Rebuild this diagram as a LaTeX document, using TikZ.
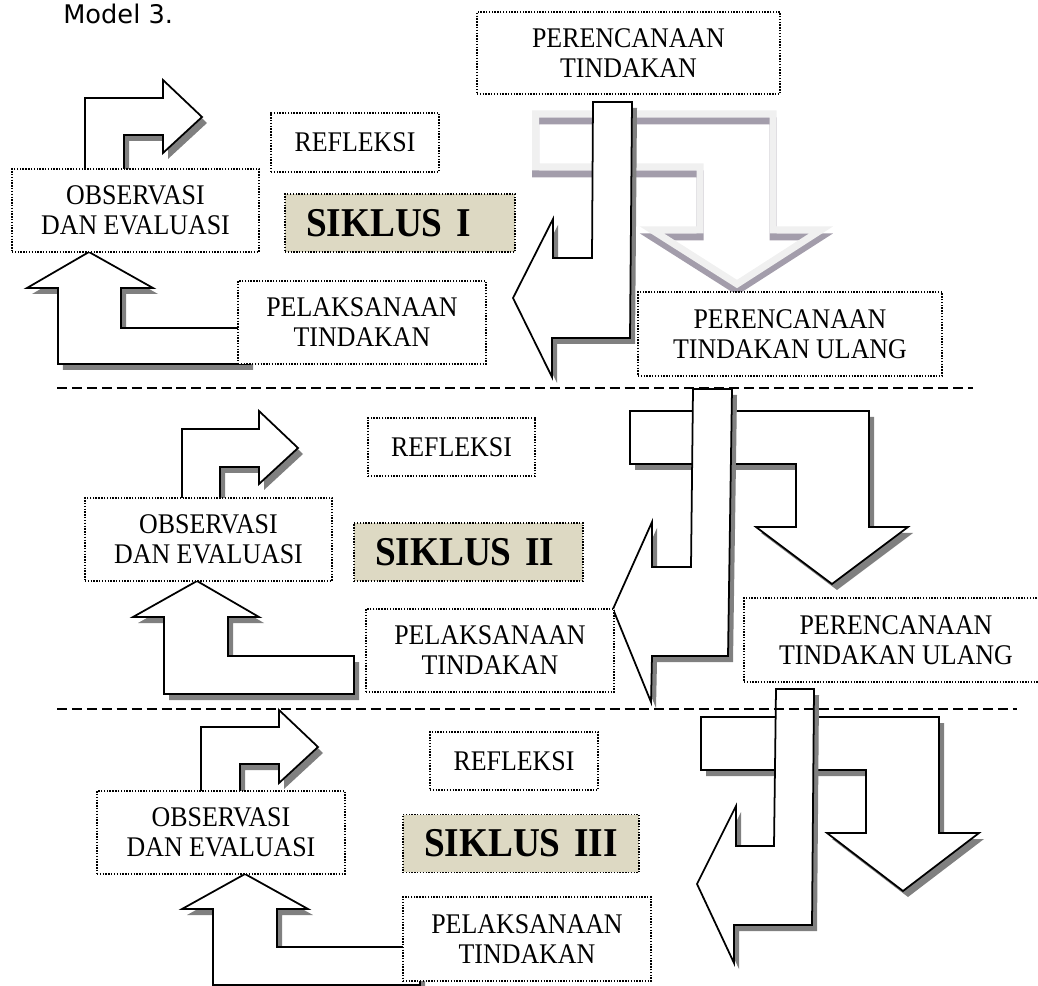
\documentclass[tikz,border=0pt]{standalone}
\usepackage{fontspec}
\setmainfont{Liberation Serif}[FakeStretch=0.91]
\newfontfamily\modelfont{DejaVu Sans}
\usepackage{xcolor}
\usepackage{tikz}
\usetikzlibrary{shadows}
\definecolor{cycletan}{HTML}{DDD9C3}
\definecolor{ghostline}{HTML}{F0F0F0}
\definecolor{ghostshade}{HTML}{A39DAB}
\tikzset{
  textbox/.style={rectangle, draw=black, line width=0.8pt, dash pattern=on 0.8pt off 0.8pt, fill=white, align=center, inner sep=0pt, font=\fontsize{16.2}{17}\selectfont},
  cyclebox/.style={textbox, fill=cycletan, align=left, inner xsep=0.42cm, minimum height=1.16cm, font=\fontsize{23.3}{26}\selectfont\bfseries},
  blockarrow/.style={draw=black, line width=1pt, fill=white, line join=miter, drop shadow={shadow xshift=1mm, shadow yshift=-1.2mm, fill=black!50, opacity=1}},
  ghostarrow/.style={draw=ghostline, line width=0.14cm, line join=miter},
  separator/.style={line width=0.6pt, dash pattern=on 5.7pt off 2.8pt}
}

\begin{document}
\begin{tikzpicture}[x=0.02cm, y=-0.02cm]
\useasboundingbox (0,0) rectangle (1038,986);
\node[anchor=base west, inner sep=0pt, font=\modelfont\fontsize{14.6}{16}\selectfont] (title) at (63,24) {Model 3.};

% Siklus I - arrows first, boxes on top
\draw[ghostarrow, draw=ghostshade, yshift=-0.14cm] (535.5,114) -- (773,114) -- (773,230) -- (821,230) -- (737,284) -- (652,230) -- (700,230) -- (700,167) -- (535.5,167) -- cycle;
\draw[ghostarrow] (535.5,114) -- (773,114) -- (773,230) -- (821,230) -- (737,284) -- (652,230) -- (700,230) -- (700,167) -- (535.5,167) -- cycle;
\draw[blockarrow] (593,102) -- (632,102) -- (630,338) -- (552,338) -- (552,377) -- (513,298) -- (553,219) -- (553,258) -- (592,258) -- cycle;
\draw[blockarrow] (85,172) -- (85,98) -- (163,98) -- (163,80) -- (202,117) -- (163,153) -- (163,135) -- (124,135) -- (124,172) -- cycle;
\draw[blockarrow] (248,364) -- (58,364) -- (58,288) -- (27,288) -- (89,252) -- (153,288) -- (121,288) -- (121,328) -- (248,328) -- cycle;

\node[textbox, minimum width=6.06cm, minimum height=1.64cm] (plan1) at (628.5,53) {PERENCANAAN\\TINDAKAN};
\node[textbox, minimum width=3.36cm, minimum height=1.18cm] (refl1) at (355,142.5) {REFLEKSI};
\node[textbox, minimum width=4.94cm, minimum height=1.66cm] (obs1) at (135.5,210.5) {OBSERVASI\\DAN EVALUASI};
\node[cyclebox, text width=3.76cm] (cyc1) at (400,223) {SIKLUS I};
\node[textbox, minimum width=4.96cm, minimum height=1.66cm] (act1) at (362,322.5) {PELAKSANAAN\\TINDAKAN};
\node[textbox, minimum width=6.08cm, minimum height=1.68cm] (replan1) at (790,334) {PERENCANAAN\\TINDAKAN ULANG};

% Siklus II
\draw[blockarrow] (630,411) -- (869,411) -- (869,527) -- (908,527) -- (832,584) -- (756,527) -- (796,527) -- (796,464) -- (630,464) -- cycle;
\draw[blockarrow] (693,389) -- (732,389) -- (728,656) -- (652,656) -- (651,702) -- (613,609) -- (652,522) -- (652,567) -- (691,567) -- cycle;
\draw[blockarrow] (182,501) -- (182,429) -- (259,429) -- (259,411) -- (298,448) -- (259,484) -- (259,467) -- (220,467) -- (220,501) -- cycle;
\draw[blockarrow] (354,694) -- (164,694) -- (164,617) -- (133,617) -- (197,581) -- (259,617) -- (228,617) -- (228,656) -- (354,656) -- cycle;

\node[textbox, minimum width=3.34cm, minimum height=1.16cm] (refl2) at (451.5,447) {REFLEKSI};
\node[textbox, minimum width=4.94cm, minimum height=1.66cm] (obs2) at (208.5,539.5) {OBSERVASI\\DAN EVALUASI};
\node[cyclebox, text width=3.74cm] (cyc2) at (468.5,552) {SIKLUS II};
\node[textbox, minimum width=4.96cm, minimum height=1.66cm] (act2) at (490,650.5) {PELAKSANAAN\\TINDAKAN};
\node[textbox, minimum width=6.08cm, minimum height=1.68cm] (replan2) at (896,640) {PERENCANAAN\\TINDAKAN ULANG};

% Siklus III
\draw[blockarrow] (701,717) -- (939,717) -- (939,833) -- (979,833) -- (903,891) -- (827,833) -- (866,833) -- (866,770) -- (701,770) -- cycle;
\draw[blockarrow] (776,689) -- (814,689) -- (812,925) -- (734,925) -- (734,963) -- (697,884) -- (736,806) -- (736,846) -- (774,846) -- cycle;
\draw[blockarrow] (201,794) -- (201,727) -- (279,727) -- (279,710) -- (318,747) -- (279,783) -- (279,764) -- (240,764) -- (240,794) -- cycle;
\draw[blockarrow] (420,985) -- (213,985) -- (213,909) -- (182,909) -- (245,874) -- (308,909) -- (277,909) -- (277,947) -- (420,947) -- cycle;

\node[textbox, minimum width=3.36cm, minimum height=1.16cm] (refl3) at (514,761) {REFLEKSI};
\node[textbox, minimum width=4.96cm, minimum height=1.66cm] (obs3) at (221,832.5) {OBSERVASI\\DAN EVALUASI};
\node[cyclebox, text width=3.88cm] (cyc3) at (521,843.5) {SIKLUS III};
\node[textbox, minimum width=4.96cm, minimum height=1.68cm] (act3) at (527,939) {PELAKSANAAN\\TINDAKAN};

% separators
\draw[separator] (57,388) -- (973,388);
\draw[separator] (57,709) -- (1017,709);
\end{tikzpicture}
\end{document}
